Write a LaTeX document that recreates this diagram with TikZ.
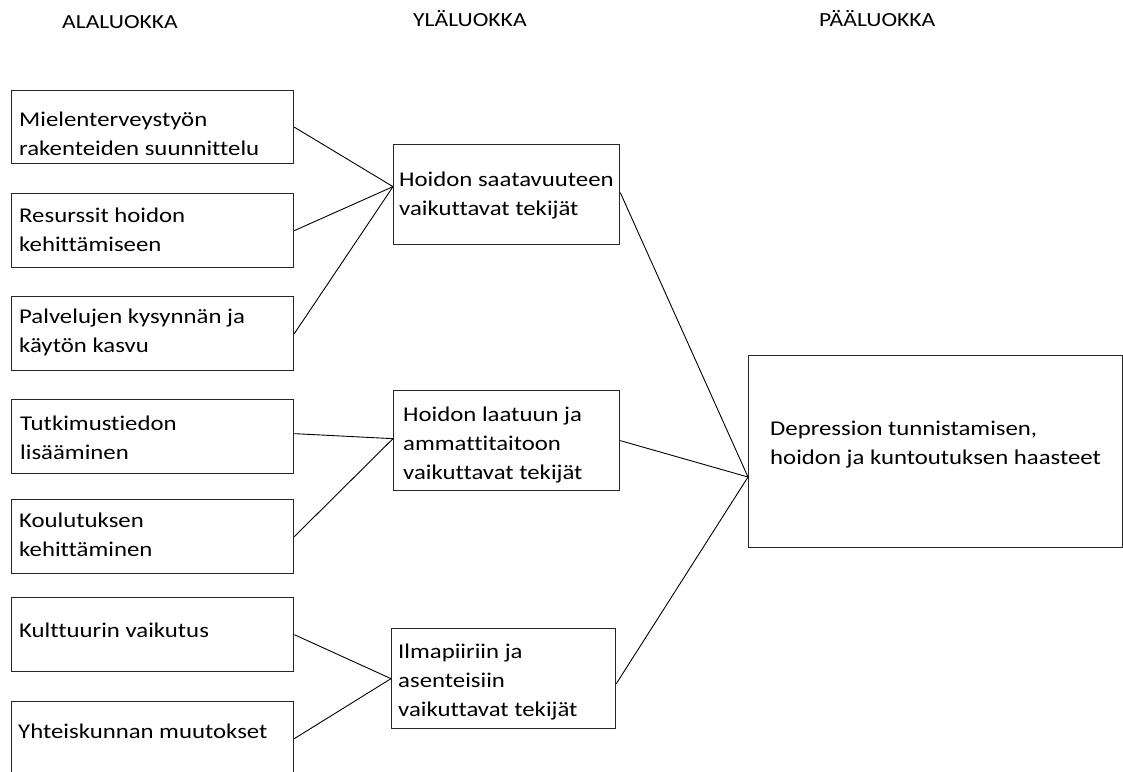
\documentclass[tikz,border=0pt]{standalone}
\usepackage{fontspec}
\setmainfont{Carlito}[FakeStretch=1.18,Ligatures={NoCommon}]
\newcommand\myStrut{\rule{0pt}{20pt}}
\begin{document}
\begin{tikzpicture}[x=1pt,y=-1pt,
  box/.style={draw=black!85,line width=1.3pt,inner sep=0pt,anchor=north west},
  lbox/.style={box,minimum width=282pt,minimum height=74pt},
  mbox/.style={box,minimum height=100pt},
  txt/.style={anchor=north west,inner sep=0pt,align=left,text=black,
    font=\fontsize{21}{29}\selectfont},
  head/.style={anchor=base west,inner sep=0pt,text=black,
    font=\fontsize{20}{22}\selectfont},
  conn/.style={draw=black,line width=0.9pt}]
\useasboundingbox (0,0) rectangle (1123,771);
\clip (0,0) rectangle (1123,771);
\fill[white] (0,0) rectangle (1123,771);
% headers
\node[head] (h1) at (62,28) {ALALUOKKA};
\node[head] (h2) at (413,26) {YLÄLUOKKA};
\node[head] (h3) at (819,26) {PÄÄLUOKKA};
% left boxes
\node[lbox,minimum height=73pt] (l1) at (11,90) {};
\node[lbox] (l2) at (11,193) {};
\node[lbox] (l3) at (11,296) {};
\node[lbox] (l4) at (11,399) {};
\node[lbox] (l5) at (11,499) {};
\node[lbox] (l6) at (11,597) {};
\node[lbox] (l7) at (11,701) {};
\node[txt] (t1) at (19,106) {\myStrut Mielenterveystyön\\rakenteiden suunnittelu};
\node[txt] (t2) at (19,202) {\myStrut Resurssit hoidon\\kehittämiseen};
\node[txt] (t3) at (19,303) {\myStrut Palvelujen kysynnän ja\\käytön kasvu};
\node[txt] (t4) at (20,410) {\myStrut Tutkimustiedon\\lisääminen};
\node[txt] (t5) at (19,507) {\myStrut Koulutuksen\\kehittäminen};
\node[txt] (t6) at (19,617) {\myStrut Kulttuurin vaikutus};
\node[txt] (t7) at (18,718) {\myStrut Yhteiskunnan muutokset};
% middle boxes
\node[mbox,minimum width=226pt] (ya) at (393,144) {};
\node[mbox,minimum width=226pt] (yb) at (393,390) {};
\node[mbox,minimum width=224pt] (yc) at (391,628) {};
\node[txt] (ta) at (399,166) {\myStrut Hoidon saatavuuteen\\vaikuttavat tekijät};
\node[txt] (tb) at (403,401) {\myStrut Hoidon laatuun ja\\ammattitaitoon\\vaikuttavat tekijät};
\node[txt] (tc) at (398,638) {\myStrut Ilmapiiriin ja\\asenteisiin\\vaikuttavat tekijät};
% main box
\node[box,minimum width=374pt,minimum height=192pt] (pa) at (748,355) {};
\node[txt] (tp) at (770,415) {\myStrut Depression tunnistamisen,\\hoidon ja kuntoutuksen haasteet};
\coordinate (pin) at (748,477);
% connectors
\draw[conn] (l1.east) -- ([yshift=8pt]ya.west);
\draw[conn] (l2.east) -- ([yshift=8pt]ya.west);
\draw[conn] (l3.east) -- ([yshift=8pt]ya.west);
\draw[conn] ([yshift=3pt]l4.east) -- ([yshift=2pt]yb.west);
\draw[conn] (l5.east) -- ([yshift=2pt]yb.west);
\draw[conn] (l6.east) -- (yc.west);
\draw[conn] (l7.east) -- (yc.west);
\draw[conn] ([yshift=2pt]ya.east) -- (pin);
\draw[conn] (yb.east) -- (pin);
\draw[conn] ([yshift=-5pt]yc.east) -- (pin);
\end{tikzpicture}
\end{document}
